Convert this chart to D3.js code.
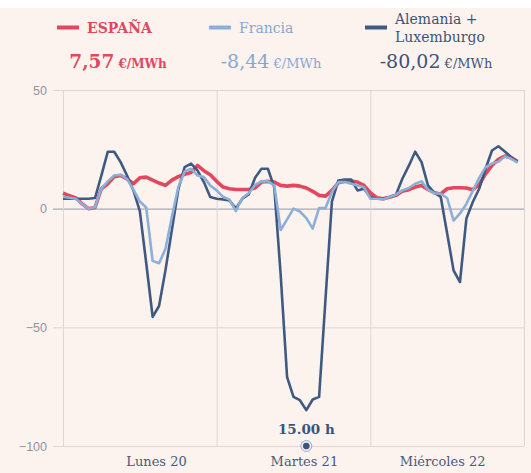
<!DOCTYPE html>
<html>
<head>
<meta charset="utf-8">
<script src="https://cdn.jsdelivr.net/npm/d3@7"></script>
<style>
  body { margin: 0; background: #ffffff; }
  svg { display: block; }
</style>
</head>
<body>
<div id="chart"></div>
<script>
        // Hourly prices, 72 hours (Lunes 20 - Miércoles 22), €/MWh
        var hours = d3.range(72);

        var espana = [6.5, 5.5, 4.5, 2, 0, 0.5, 8.4, 10.5, 13.5, 14, 12.5, 10.5,
            13, 13.3, 12, 10.8, 9.8, 12, 13.5, 14.5, 15.2, 18.2, 16, 14.3,
            11.5, 9.1, 8.4, 8.1, 8.1, 8.1, 8.7, 11.2, 11.5, 11.2, 9.8, 9.5,
            9.8, 9.5, 8.7, 7.3, 5.6, 5.3, 7.7, 10.9, 11.6, 11.6, 11.2, 9.8,
            6.7, 4.6, 4.2, 4.8, 5.6, 7.3, 8, 9.1, 9.8, 8.1, 6.7, 6.2,
            8.4, 8.8, 8.8, 8.7, 8, 10.1, 14.7, 18.2, 20.8, 22.2, 21.6, 19.9];

        var francia = [5, 4.6, 4.2, 2, 0, 0.7, 8.4, 11.5, 14, 14.3, 12.5, 8,
            3, 0.5, -22, -23, -17, -3.5, 9, 15.7, 16.8, 14, 13.3, 9.8,
            7.7, 5, 3.8, -1, 4.5, 6.5, 10, 11.5, 11.5, 9.8, -9, -4.5,
            0, -1.2, -4, -8.4, 0.3, 0.3, 7, 11.2, 11.2, 10.5, 9.8, 9,
            4.2, 4.2, 3.9, 4.9, 5.9, 7.7, 8.7, 10.5, 11.5, 8, 6.5, 6.3,
            4.5, -5, -2, 2, 7.5, 13, 17.5, 19, 19.8, 22, 21, 19.4];

        var alemania = [4.2, 4.2, 4.2, 4.2, 4.2, 4.5, 14, 24, 24, 19.6, 14, 7.7,
            -1, -23, -45.6, -41, -26, -9, 8, 17.5, 19, 16.1, 11.2, 4.9,
            4.2, 3.9, 3.5, 0, 4.2, 6, 13, 16.8, 16.8, 9, -28, -71,
            -79.3, -80.7, -84.9, -80.4, -79.3, -38, 3, 11.9, 12.3, 12.3, 7.7, 8.4,
            4.9, 4.2, 4.2, 4.9, 5.9, 12.6, 18, 24, 19.6, 9.8, 6.7, 4.9,
            -10.5, -26, -30.9, -4.2, 2.8, 8.4, 16.8, 24.5, 26.3, 24.1, 21.7, 19.6];

        // Axis ticks and day labels
        var yTicks = [50, 0, -50, -100];
        var dayBounds = [0, 24, 48, 72];
        var dayLabels = ["Lunes 20", "Martes 21", "Miércoles 22"];
        var dayLabelHours = [14.6, 37.7, 59.3];

        // Legend
        var seriesNames = ["ESPAÑA", "Francia", "Alemania +|Luxemburgo"];
        var seriesValues = ["7,57", "-8,44", "-80,02"];
        var colors = ["#e2475e", "#8cafd8", "#3f5a82"];
        var textColors = ["#e2475e", "#86a8d0", "#3c5479"];

        // Highlighted hour
        var markHour = 38;
        var markLabel = "15.00 h";

        var W = 531, H = 473;
        var margin = { top: 90, right: 7, bottom: 27, left: 63 };
        var width = W - margin.left - margin.right;
        var height = H - margin.top - margin.bottom;

        var svg = d3.select("#chart")
            .append("svg")
            .attr("width", W)
            .attr("height", H);

        // peach background
        svg.append("rect")
            .attr("x", 0).attr("y", 8)
            .attr("width", W).attr("height", H - 8)
            .attr("fill", "#fcf3ee");

        var g = svg.append("g")
            .attr("transform", "translate(" + margin.left + "," + margin.top + ")");

        var xScale = d3.scaleLinear()
            .domain([0, 72])
            .range([0, width]);

        var yScale = d3.scaleLinear()
            .domain([-100, 50])
            .range([height, 0]);

        // Horizontal grid + y labels
        var yAxis = g.append("g")
            .attr("transform", "translate(-10,0)")
            .call(d3.axisLeft(yScale)
                .tickValues(yTicks)
                .tickSize(-(width + 10))
                .tickPadding(6));
        yAxis.select(".domain").remove();
        yAxis.selectAll("line")
            .attr("stroke", function (d) { return d === 0 ? "#a9a9b4" : "#dcd6d6"; })
            .attr("stroke-width", function (d) { return d === 0 ? 1.3 : 1; });
        yAxis.selectAll("text")
            .attr("fill", "#8f94a3")
            .style("font-family", "'Liberation Sans', Arial, sans-serif")
            .style("font-size", "12.5px");

        // Vertical day separators
        var xAxis = g.append("g")
            .attr("transform", "translate(0," + height + ")")
            .call(d3.axisBottom(xScale)
                .tickValues(dayBounds)
                .tickSize(-height)
                .tickFormat(""));
        xAxis.select(".domain").remove();
        xAxis.selectAll("line").attr("stroke", "#dcd6d6");

        // Day labels
        g.selectAll(".day")
            .data(dayLabels)
            .enter()
            .append("text")
            .attr("x", function (d, i) { return xScale(dayLabelHours[i]); })
            .attr("y", height + 20)
            .attr("text-anchor", "middle")
            .attr("fill", "#4a5a78")
            .style("font-family", "'DejaVu Serif', serif")
            .style("font-size", "13px")
            .text(function (d) { return d; });

        // Lines
        var line = d3.line()
            .x(function (d, i) { return xScale(hours[i]); })
            .y(function (d) { return yScale(d); });

        var series = [espana, alemania, francia];
        var seriesColor = [colors[0], colors[2], colors[1]];
        var seriesWidth = [3.6, 2.6, 2.6];

        g.selectAll(".series")
            .data(series)
            .enter()
            .append("path")
            .attr("d", line)
            .attr("fill", "none")
            .attr("stroke", function (d, i) { return seriesColor[i]; })
            .attr("stroke-width", function (d, i) { return seriesWidth[i]; })
            .attr("stroke-linejoin", "round");

        // Marker at the lowest hour
        g.append("text")
            .attr("x", xScale(hours[markHour]))
            .attr("y", yScale(-100) - 12)
            .attr("text-anchor", "middle")
            .attr("fill", "#3c5479")
            .style("font-family", "'DejaVu Serif', serif")
            .style("font-weight", "bold")
            .style("font-size", "13.5px")
            .text(markLabel);
        g.append("circle")
            .attr("cx", xScale(hours[markHour]))
            .attr("cy", yScale(-100))
            .attr("r", 5.5)
            .attr("fill", "#e8ecf3")
            .attr("stroke", "#9fb0c8")
            .attr("stroke-width", 1);
        g.append("circle")
            .attr("cx", xScale(hours[markHour]))
            .attr("cy", yScale(-100))
            .attr("r", 3.3)
            .attr("fill", "#3c5479");

        // Legend
        var legendX = [57, 209, 365];
        var valueX = [118, 271, 436];

        var legend = svg.selectAll(".legend")
            .data(seriesNames)
            .enter()
            .append("g");

        legend.append("line")
            .attr("x1", function (d, i) { return legendX[i]; })
            .attr("x2", function (d, i) { return legendX[i] + 22; })
            .attr("y1", 27.5)
            .attr("y2", 27.5)
            .attr("stroke", function (d, i) { return colors[i]; })
            .attr("stroke-width", 4);

        legend.each(function (d, i) {
            var parts = d.split("|");
            var t = d3.select(this).append("text")
                .attr("x", legendX[i] + 30)
                .attr("y", parts.length > 1 ? 23.5 : 32.5)
                .attr("fill", textColors[i])
                .style("font-family", "'DejaVu Serif', serif")
                .style("font-size", "14px")
                .style("font-weight", i === 0 ? "bold" : "normal");
            parts.forEach(function (p, k) {
                t.append("tspan")
                    .attr("x", legendX[i] + 30)
                    .attr("dy", k === 0 ? 0 : 18)
                    .text(p);
            });

            var v = d3.select(this).append("text")
                .attr("x", valueX[i])
                .attr("y", 67.5)
                .attr("text-anchor", "middle")
                .attr("fill", textColors[i])
                .style("font-family", "'DejaVu Serif', serif");
            v.append("tspan")
                .style("font-size", i === 0 ? "18.5px" : "19px")
                .style("font-weight", i === 0 ? "bold" : "normal")
                .text(seriesValues[i]);
            v.append("tspan")
                .style("font-size", i === 0 ? "12px" : "13px")
                .style("font-weight", i === 0 ? "bold" : "normal")
                .text(" €/MWh");
        });
</script>
</body>
</html>
